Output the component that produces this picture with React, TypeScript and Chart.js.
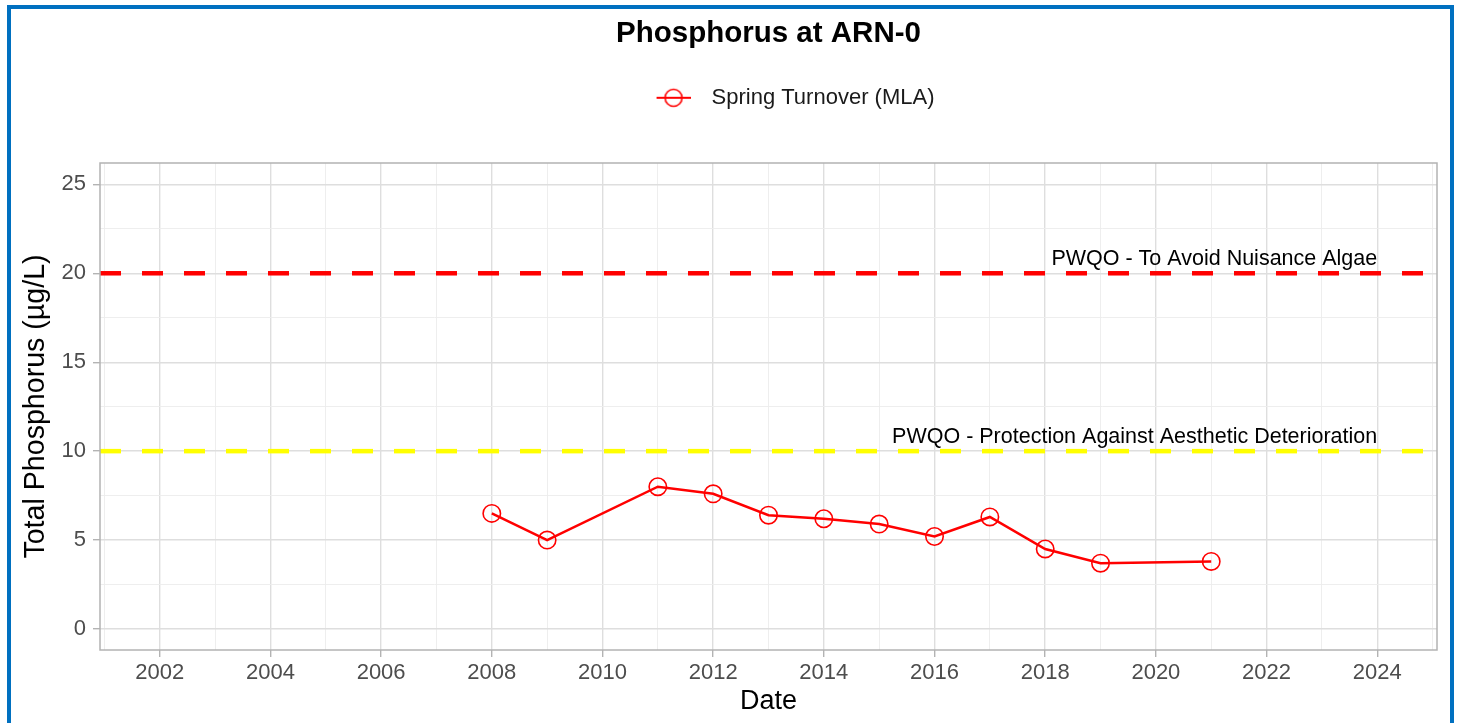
import React, { useEffect, useRef } from 'react';
import { Chart, registerables } from 'chart.js';

Chart.register(...registerables);

// ---------- data ----------
const chartTitle = 'Phosphorus at ARN-0';
const seriesName = 'Spring Turnover (MLA)';
const sampleYears = [2008, 2009, 2011, 2012, 2013, 2014, 2015, 2016, 2017, 2018, 2019, 2021];
const springTurnoverTP = [6.5, 5.0, 8.0, 7.6, 6.4, 6.2, 5.9, 5.2, 6.3, 4.5, 3.7, 3.8];

const thresholdValues = [20, 10];
const thresholdLabels = [
  'PWQO - To Avoid Nuisance Algae',
  'PWQO - Protection Against Aesthetic Deterioration',
];

const xGridYears = [
  2001, 2002, 2003, 2004, 2005, 2006, 2007, 2008, 2009, 2010, 2011, 2012, 2013,
  2014, 2015, 2016, 2017, 2018, 2019, 2020, 2021, 2022, 2023, 2024, 2025,
];
const xTickLabels = ['2002', '2004', '2006', '2008', '2010', '2012', '2014', '2016', '2018', '2020', '2022', '2024'];
const yGridValues = [0, 2.5, 5, 7.5, 10, 12.5, 15, 17.5, 20, 22.5, 25];
const yTickLabels = ['0', '5', '10', '15', '20', '25'];

const xAxisTitle = 'Date';
const yAxisTitle = 'Total Phosphorus (µg/L)';

// ---------- axis limits / layout ----------
const X_MIN = 2000.92;
const X_MAX = 2025.08;
const Y_MIN = -1.18;
const Y_MAX = 26.2;
const LABEL_YEAR = 2024;

const W = 1457;
const H = 723;
const FONT = '"Liberation Sans", Arial, Helvetica, sans-serif';

const isMajorX = (v: number) => xTickLabels.includes(String(v));
const isMajorY = (v: number) => yTickLabels.includes(String(v));

const panelPlugin = {
  id: 'panelPlugin',
  afterDatasetsDraw(chart: any) {
    const { ctx, chartArea: a, scales } = chart;
    ctx.save();
    ctx.font = `21.5px ${FONT}`;
    ctx.fillStyle = '#000000';
    ctx.textAlign = 'right';
    ctx.textBaseline = 'alphabetic';
    thresholdValues.forEach((v, i) => {
      ctx.fillText(
        thresholdLabels[i],
        scales.x.getPixelForValue(LABEL_YEAR),
        scales.y.getPixelForValue(v) - 8
      );
    });
    ctx.strokeStyle = '#b3b3b3';
    ctx.lineWidth = 1.5;
    ctx.strokeRect(a.left, a.top, a.right - a.left, a.bottom - a.top);
    ctx.restore();
  },
};

function makeLegendMarker(): HTMLCanvasElement {
  const c = document.createElement('canvas');
  c.width = 78;
  c.height = 22;
  const g = c.getContext('2d')!;
  g.strokeStyle = '#ff0000';
  g.lineWidth = 2;
  g.beginPath();
  g.moveTo(44, 11);
  g.lineTo(78, 11);
  g.stroke();
  g.lineWidth = 1.6;
  g.beginPath();
  g.arc(61, 11, 8.5, 0, Math.PI * 2);
  g.stroke();
  return c;
}

export default function App() {
  const canvasRef = useRef<HTMLCanvasElement | null>(null);

  useEffect(() => {
    if (!canvasRef.current) return;
    Chart.defaults.font.family = FONT;
    const marker = makeLegendMarker();

    const seriesData = sampleYears.map((yr, i) => ({ x: yr, y: springTurnoverTP[i] }));
    const thresholdColors = ['#ff0000', '#ffff00'];
    const thresholdSets = thresholdValues.map((v, i) => ({
      label: thresholdLabels[i],
      data: [
        { x: X_MIN, y: v },
        { x: X_MAX, y: v },
      ],
      borderColor: thresholdColors[i],
      borderWidth: 4.5,
      borderDash: [21, 21],
      borderCapStyle: 'butt' as const,
      pointRadius: 0,
      pointHoverRadius: 0,
      xAxisID: 'x',
      yAxisID: 'y',
    }));

    const chart = new Chart(canvasRef.current, {
      type: 'line',
      data: {
        datasets: [
          {
            label: seriesName,
            data: seriesData,
            borderColor: '#ff0000',
            borderWidth: 2.5,
            pointStyle: 'circle',
            pointRadius: 8.7,
            pointBorderWidth: 1.6,
            pointBackgroundColor: 'rgba(0,0,0,0)',
            pointBorderColor: '#ff0000',
            tension: 0,
            xAxisID: 'x',
            yAxisID: 'y',
          },
          ...thresholdSets,
        ],
      },
      options: {
        responsive: false,
        animation: false,
        events: [],
        layout: { padding: { top: 0, right: 20, bottom: 0, left: 0 } },
        plugins: {
          title: {
            display: true,
            text: chartTitle,
            fullSize: false,
            color: '#000000',
            font: { size: 29.5, weight: 'bold', family: FONT },
            padding: { top: 16, bottom: 9.4 },
          },
          legend: {
            display: true,
            fullSize: false,
            position: 'top',
            labels: {
              usePointStyle: true,
              pointStyle: marker as any,
              pointStyleWidth: 98,
              color: '#1a1a1a',
              font: { size: 22, family: FONT },
              padding: 26,
              filter: (item: any) => item.datasetIndex === 0,
            },
          },
          tooltip: { enabled: false },
        },
        scales: {
          x: {
            type: 'linear',
            position: 'bottom',
            min: X_MIN,
            max: X_MAX,
            afterBuildTicks: (s: any) => {
              s.ticks = xGridYears.map((v) => ({ value: v }));
            },
            afterFit: (s: any) => {
              s.height = 73;
            },
            ticks: {
              autoSkip: false,
              maxRotation: 0,
              minRotation: 0,
              padding: 3,
              color: '#4d4d4d',
              font: { size: 22, family: FONT },
              callback: (v: any) => (isMajorX(Number(v)) ? String(v) : ''),
            },
            grid: {
              color: (c: any) => (isMajorX(c.tick?.value) ? '#dedede' : '#ececec'),
              lineWidth: (c: any) => (isMajorX(c.tick?.value) ? 1.4 : 0.9),
              tickColor: (c: any) => (isMajorX(c.tick?.value) ? '#b3b3b3' : 'rgba(0,0,0,0)'),
              tickWidth: 1.4,
              tickLength: 7,
            },
            border: { display: false },
            title: {
              display: true,
              text: xAxisTitle,
              color: '#000000',
              font: { size: 27, family: FONT },
              padding: { top: 0, bottom: 5 },
            },
          },
          xTop: {
            type: 'linear',
            axis: 'x',
            position: 'top',
            min: X_MIN,
            max: X_MAX,
            display: true,
            ticks: { display: false },
            grid: { display: false, drawTicks: false },
            border: { display: false },
            afterFit: (s: any) => {
              s.height = 44.2;
            },
          },
          y: {
            type: 'linear',
            position: 'left',
            min: Y_MIN,
            max: Y_MAX,
            afterBuildTicks: (s: any) => {
              s.ticks = yGridValues.map((v) => ({ value: v }));
            },
            afterFit: (s: any) => {
              s.width = 100;
            },
            ticks: {
              padding: 7,
              color: '#4d4d4d',
              font: { size: 22, family: FONT },
              callback: (v: any) => (isMajorY(Number(v)) ? String(v) : ''),
            },
            grid: {
              color: (c: any) => (isMajorY(c.tick?.value) ? '#dedede' : '#ececec'),
              lineWidth: (c: any) => (isMajorY(c.tick?.value) ? 1.4 : 0.9),
              tickColor: (c: any) => (isMajorY(c.tick?.value) ? '#b3b3b3' : 'rgba(0,0,0,0)'),
              tickWidth: 1.4,
              tickLength: 7,
            },
            border: { display: false },
            title: {
              display: true,
              text: yAxisTitle,
              color: '#000000',
              font: { size: 28.6, family: FONT },
              padding: { top: 18.5, bottom: 0 },
            },
          },
        },
      },
      plugins: [panelPlugin],
    } as any);

    return () => chart.destroy();
  }, []);

  return (
    <div
      style={{
        position: 'fixed',
        left: 0,
        top: 0,
        width: W,
        height: H,
        overflow: 'hidden',
        background: '#ffffff',
      }}
    >
      <canvas
        ref={canvasRef}
        width={W}
        height={H}
        style={{ position: 'absolute', left: 0, top: 0, width: W, height: H }}
      />
      <div
        style={{
          position: 'absolute',
          left: 7,
          top: 5,
          width: 1447,
          height: 800,
          border: '4px solid #0070c0',
          boxSizing: 'border-box',
          pointerEvents: 'none',
        }}
      />
    </div>
  );
}
